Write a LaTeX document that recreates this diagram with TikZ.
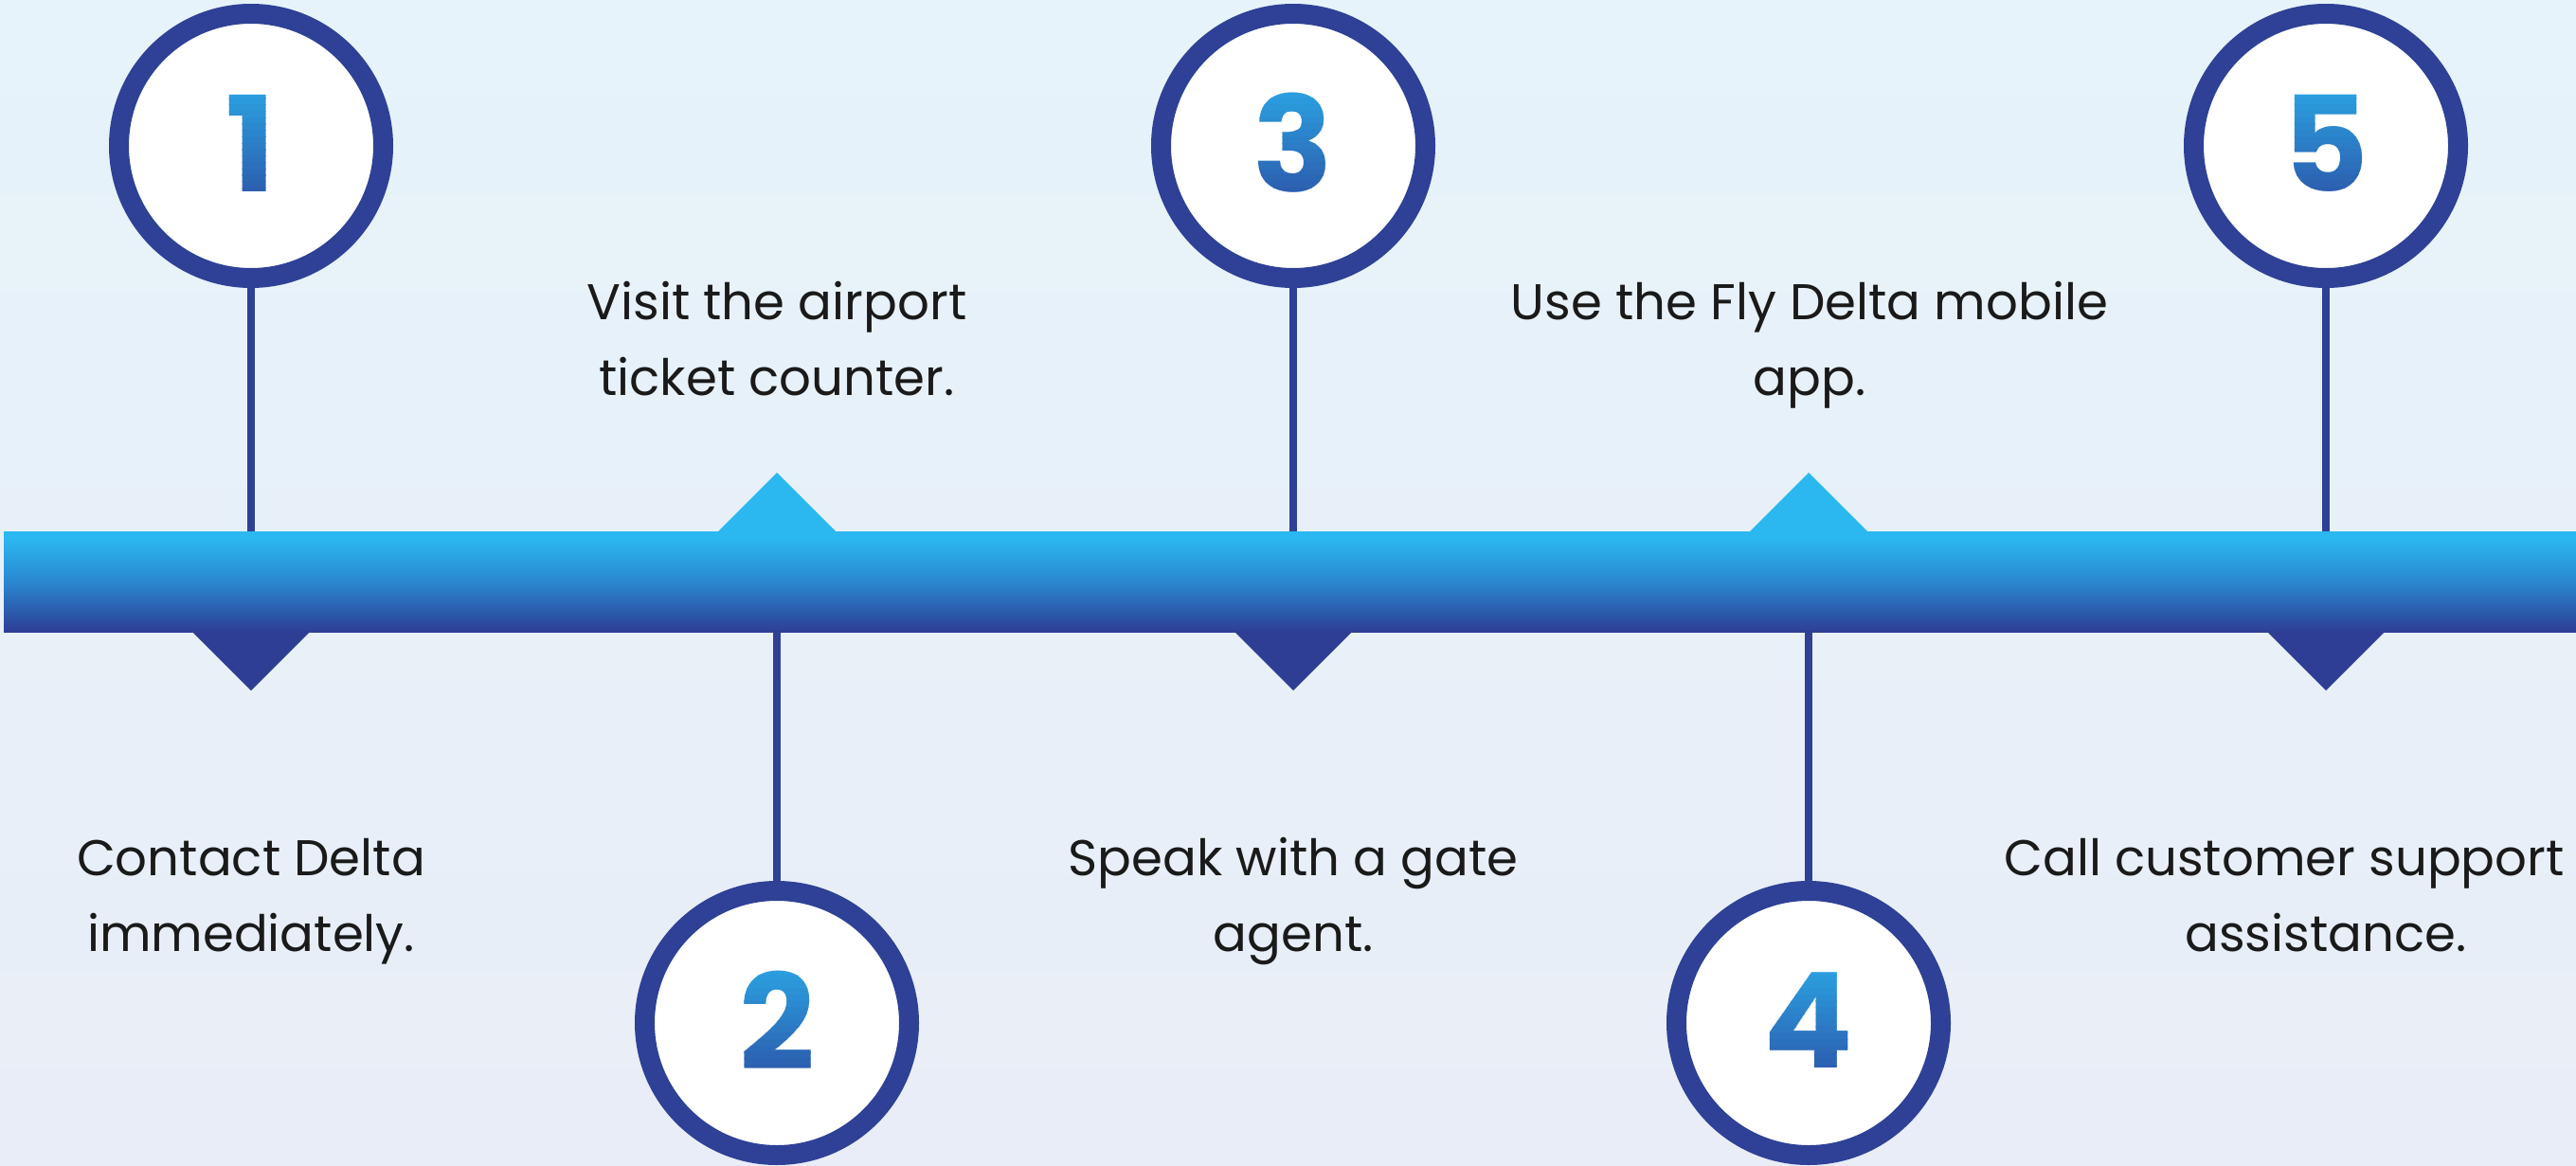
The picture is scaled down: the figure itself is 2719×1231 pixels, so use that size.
\documentclass[tikz,border=0pt]{standalone}
\usepackage{fontspec}
\setmainfont{Poppins}
\newfontfamily\numfont{Poppins}
\usetikzlibrary{calc}
\definecolor{bgTop}{HTML}{E6F3FA}
\definecolor{bgBot}{HTML}{E9EDF7}
\definecolor{barTop}{HTML}{2BB8F0}
\definecolor{barMid}{HTML}{2A87CF}
\definecolor{barBot}{HTML}{2D3E94}
\definecolor{ring}{HTML}{2E4196}
\definecolor{digTop}{HTML}{2BA0E0}
\definecolor{digBot}{HTML}{2C5CAE}
\definecolor{txt}{HTML}{1A1A1A}
\pgfdeclareverticalshading{barshade}{100bp}{color(0bp)=(barBot); color(25bp)=(barBot); color(50bp)=(barMid); color(72bp)=(barTop); color(100bp)=(barTop)}
\begin{document}
\begin{tikzpicture}[x=1pt,y=-1pt,
  ringnode/.style={circle,draw=ring,line width=21pt,fill=white,minimum size=279pt,inner sep=0pt},
  conn/.style={draw=ring,line width=8pt},
  steptext/.style={font=\fontsize{53}{80}\selectfont,text=txt,anchor=base,inner sep=0pt},
  digit/.style={font=\numfont\bfseries\fontsize{140}{140}\selectfont,inner sep=0pt}
]
\fill[top color=bgTop,bottom color=bgBot] (0,0) rectangle (2719,1231);
\useasboundingbox (0,0) rectangle (2719,1231);
% triangles
\foreach \cx in {820,1909} \fill[barTop] (\cx-63,562) -- (\cx,499) -- (\cx+63,562) -- cycle;
\foreach \cx in {265,1365,2455} \fill[barBot] (\cx-63,666) -- (\cx,729) -- (\cx+63,666) -- cycle;
% bar
\node[inner sep=0pt,outer sep=0pt,minimum width=2716pt,minimum height=106pt,anchor=north west,shading=barshade] (bar) at (4,561) {};
% circles and digits
\foreach \n/\cx/\cy in {1/265/154, 2/820/1080, 3/1365/154, 4/1909/1080, 5/2455/154} {
  \node[ringnode] (c\n) at (\cx,\cy) {};
  \foreach \i in {0,...,15} {
    \pgfmathtruncatemacro\pct{100*(\i+0.5)/16}
    \begin{scope}
      \clip (\cx-120,\cy-57+\i*6.75) rectangle (\cx+120,\cy-57+\i*6.75+7.1);
      \node[digit,text=digBot!\pct!digTop] (d\n-\i) at (\cx,\cy-3) {\n};
    \end{scope}
  }
}
% connectors
\draw[conn] (c1.south) -- (c1.south |- bar.north);
\draw[conn] (c3.south) -- (c3.south |- bar.north);
\draw[conn] (c5.south) -- (c5.south |- bar.north);
\draw[conn] (c2.north) -- (c2.north |- bar.south);
\draw[conn] (c4.north) -- (c4.north |- bar.south);
% texts
\node[steptext] (t1a) at (265,924) {Contact Delta};
\node[steptext] (t1b) at (265,1004) {immediately.};
\node[steptext] (t2a) at (820,337) {Visit the airport};
\node[steptext] (t2b) at (820,417) {ticket counter.};
\node[steptext] (t3a) at (1365,924) {Speak with a gate};
\node[steptext] (t3b) at (1365,1004) {agent.};
\node[steptext] (t4a) at (1910,337) {Use the Fly Delta mobile};
\node[steptext] (t4b) at (1910,417) {app.};
\node[steptext] (t5a) at (2411,924) {Call customer support};
\node[steptext] (t5b) at (2455,1004) {assistance.};
\end{tikzpicture}
\end{document}
